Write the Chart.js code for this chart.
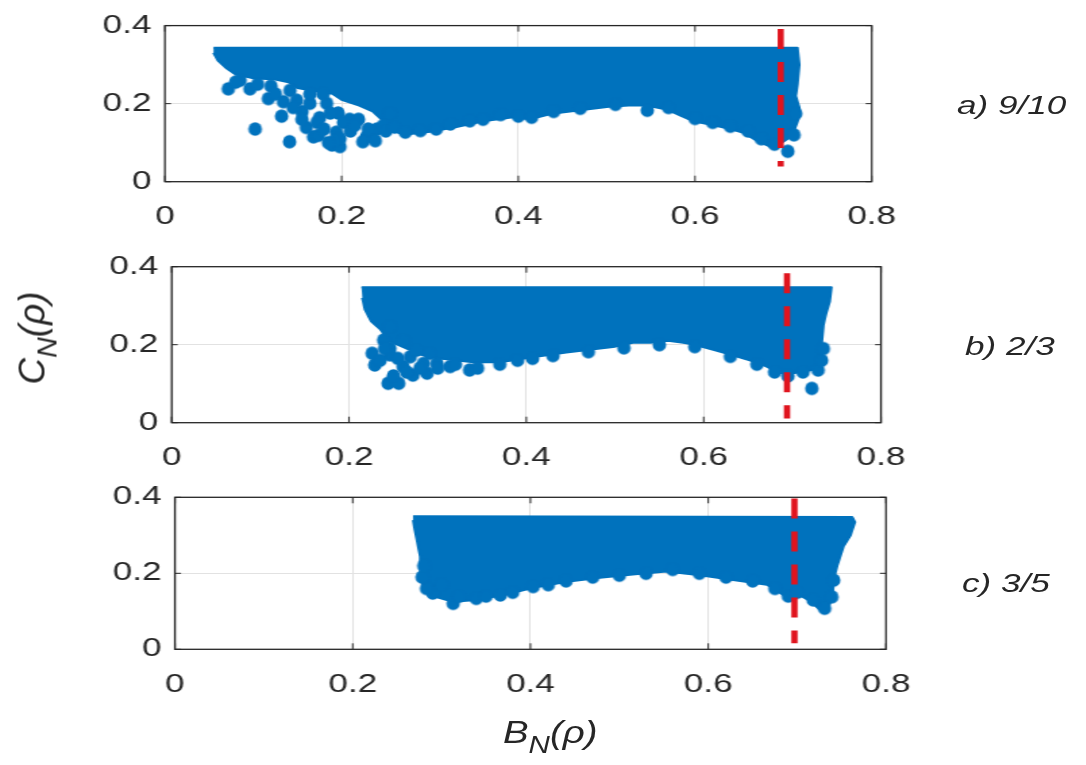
<!DOCTYPE html>
<html><head><meta charset="utf-8">
<script src="https://cdn.jsdelivr.net/npm/chart.js@4.4.1/dist/chart.umd.min.js"></script>
<style>
html,body{margin:0;padding:0;background:#fff;width:1086px;height:765px;overflow:hidden;position:relative;}
#stage{position:absolute;left:0;top:0;width:805px;height:765px;transform:scaleX(1.35);transform-origin:0 0;}
#stage canvas{position:absolute;left:0;}
.lbl{position:absolute;font-family:"Liberation Sans",Arial,sans-serif;font-style:italic;color:#262626;white-space:nowrap;line-height:1;transform-origin:0 0;}
.lbl sub{font-size:0.77em;vertical-align:-0.42em;line-height:0;}
</style></head>
<body>
<div id="stage">
  <canvas id="cA" width="805" height="250" style="top:0px"></canvas>
  <canvas id="cB" width="805" height="250" style="top:240px"></canvas>
  <canvas id="cC" width="805" height="250" style="top:470px"></canvas>
</div>
<div class="lbl" style="left:957px;top:92px;font-size:26px;transform:scaleX(1.35);">a) 9/10</div>
<div class="lbl" style="left:965px;top:333px;font-size:26px;transform:scaleX(1.35);">b) 2/3</div>
<div class="lbl" style="left:962px;top:570px;font-size:26px;transform:scaleX(1.35);">c) 3/5</div>
<div class="lbl" style="left:503px;top:716px;font-size:32px;transform:scaleX(1.2);">B<sub>N</sub>(ρ)</div>
<div class="lbl" id="ylab" style="left:32px;top:338px;font-size:37px;transform-origin:50% 50%;transform:translate(-50%,-50%) rotate(-90deg);">C<sub>N</sub>(ρ)</div>
<script>
// ---- axes ----
const xTicks = [0, 0.2, 0.4, 0.6, 0.8];
const yTicks = [0, 0.2, 0.4];
const panelNames = ["a) 9/10", "b) 2/3", "c) 3/5"];

// ---- threshold (red dashed) lines: x, top y, bottom y ----
const redA = [0.697, 0.391, 0.039];
const redB = [0.694, 0.383, 0.011];
const redC = [0.697, 0.397, 0.016];

// ---- dense region envelopes [B, C] ----
const envA = [[0.055,0.343],[0.716,0.343],[0.718,0.30],[0.716,0.25],[0.714,0.22],[0.718,0.19],[0.717,0.16],[0.712,0.13],[0.705,0.11],[0.695,0.095],[0.685,0.09],
 [0.670,0.105],[0.655,0.125],[0.640,0.135],[0.620,0.145],[0.598,0.155],[0.583,0.170],[0.568,0.185],[0.545,0.195],[0.525,0.195],[0.507,0.193],[0.47,0.183],[0.44,0.175],[0.413,0.16],[0.394,0.165],[0.36,0.155],[0.33,0.14],[0.30,0.128],[0.27,0.12],
 [0.255,0.135],[0.245,0.16],[0.235,0.18],[0.22,0.195],[0.20,0.21],[0.19,0.225],[0.17,0.232],[0.15,0.24],[0.14,0.255],[0.125,0.262],[0.10,0.265],[0.08,0.275],[0.07,0.29],[0.06,0.31],[0.055,0.33]];
const envB = [[0.214,0.347],[0.744,0.347],[0.742,0.31],[0.738,0.28],[0.735,0.25],[0.733,0.20],[0.734,0.17],[0.730,0.145],[0.722,0.135],
 [0.71,0.13],[0.695,0.125],[0.685,0.128],[0.67,0.145],[0.652,0.16],[0.63,0.175],[0.614,0.185],[0.59,0.20],[0.577,0.205],[0.56,0.21],[0.54,0.205],[0.52,0.205],[0.50,0.195],[0.483,0.19],[0.445,0.18],[0.407,0.168],[0.37,0.155],
 [0.34,0.155],[0.32,0.16],[0.30,0.165],[0.28,0.175],[0.26,0.195],[0.245,0.21],[0.235,0.24],[0.225,0.26],[0.218,0.29],[0.215,0.32]];
const envC = [[0.268,0.350],[0.762,0.348],[0.765,0.335],[0.76,0.30],[0.752,0.27],[0.745,0.22],[0.741,0.182],[0.740,0.14],[0.735,0.11],
 [0.725,0.105],[0.716,0.125],[0.705,0.14],[0.692,0.13],[0.68,0.15],[0.666,0.17],[0.628,0.182],[0.591,0.195],[0.553,0.205],[0.515,0.197],[0.478,0.188],[0.441,0.178],[0.403,0.162],[0.37,0.143],[0.339,0.13],[0.313,0.125],[0.29,0.14],[0.283,0.15],[0.277,0.18],[0.276,0.244],[0.270,0.314],[0.268,0.34]];

// ---- individual visible points [B, C] ----
const dotsA = [[0.0717,0.238],[0.0962,0.238],[0.117,0.213],[0.134,0.205],[0.132,0.168],[0.155,0.180],[0.164,0.201],[0.175,0.164],[0.183,0.201],[0.196,0.176],[0.209,0.160],[0.219,0.160],
 [0.102,0.135],[0.141,0.1025],[0.160,0.139],[0.168,0.115],[0.174,0.119],[0.189,0.094],[0.198,0.090],[0.194,0.127],[0.202,0.152],[0.228,0.115],[0.232,0.119],[0.240,0.135],[0.247,0.144],[0.255,0.176],
 [0.1415,0.234],[0.149,0.209],[0.164,0.225],[0.179,0.225],[0.187,0.176],[0.172,0.152],[0.198,0.111],[0.224,0.1025],[0.085,0.26],[0.12,0.245],
 [0.192,0.105],[0.185,0.10],[0.18,0.135],[0.21,0.13],[0.215,0.145],[0.23,0.135],[0.238,0.105],[0.25,0.13],[0.26,0.14],[0.155,0.16],[0.145,0.19],[0.125,0.225],[0.105,0.25],[0.08,0.255],
 [0.272,0.127],[0.289,0.131],[0.307,0.135],[0.323,0.148],[0.345,0.156],[0.360,0.160],[0.38,0.172],[0.40,0.168],[0.415,0.165],[0.44,0.18],[0.47,0.188],[0.51,0.198],[0.546,0.183],[0.57,0.19],[0.6,0.162],[0.62,0.152],[0.64,0.142],[0.66,0.13],[0.675,0.11],[0.69,0.096],[0.712,0.12],[0.714,0.175],[0.705,0.078]];
const dotsB = [[0.226,0.178],[0.229,0.148],[0.244,0.101],[0.256,0.101],[0.246,0.191],[0.246,0.174],[0.269,0.169],[0.272,0.122],[0.288,0.127],[0.284,0.152],[0.299,0.152],[0.314,0.144],[0.336,0.135],[0.261,0.144],[0.276,0.186],[0.291,0.178],[0.246,0.246],[0.239,0.212],[0.261,0.212],
 [0.235,0.16],[0.25,0.12],[0.265,0.13],[0.28,0.14],[0.30,0.14],[0.32,0.15],[0.345,0.14],[0.24,0.19],[0.255,0.165],
 [0.37,0.15],[0.39,0.16],[0.407,0.165],[0.43,0.172],[0.47,0.182],[0.51,0.192],[0.55,0.2],[0.59,0.195],[0.63,0.17],[0.66,0.15],[0.68,0.13],[0.695,0.12],[0.712,0.13],[0.729,0.135],[0.722,0.088],[0.733,0.16],[0.735,0.19]];
const dotsC = [[0.313,0.121],[0.339,0.134],[0.366,0.143],[0.29,0.148],[0.283,0.16],[0.30,0.17],[0.32,0.14],[0.278,0.19],[0.28,0.22],[0.35,0.14],[0.38,0.15],[0.403,0.165],[0.42,0.17],[0.44,0.18],[0.47,0.19],[0.50,0.195],[0.53,0.2],[0.56,0.21],[0.59,0.2],[0.62,0.19],[0.65,0.18],[0.675,0.16],[0.69,0.14],[0.70,0.15],[0.718,0.13],[0.731,0.108],[0.739,0.138],[0.741,0.182]];

// ---- rendering ----
const K = 1.35;          // horizontal stretch of the stage
const BLUE = '#0072BD';
const RED = '#E0141E';
const INK = '#262626';

function makeDot(r){
  const c = document.createElement('canvas');
  const w = Math.ceil(2*r/K)+2, h = Math.ceil(2*r)+2;
  c.width = w; c.height = h;
  const g = c.getContext('2d');
  g.fillStyle = BLUE;
  g.beginPath(); g.ellipse(w/2, h/2, r/K, r, 0, 0, Math.PI*2); g.fill();
  return c;
}
const dotImg = makeDot(6.8);

const boxPlugin = {
  id: 'matlabBox',
  beforeDatasetsDraw(chart){
    const {ctx, chartArea:a, scales:{x, y}} = chart;
    ctx.save();
    ctx.strokeStyle = INK; ctx.lineWidth = 1;
    ctx.beginPath();
    xTicks.forEach(v => { const px = x.getPixelForValue(v); ctx.moveTo(px, a.bottom); ctx.lineTo(px, a.bottom-6); ctx.moveTo(px, a.top); ctx.lineTo(px, a.top+6); });
    yTicks.forEach(v => { const py = y.getPixelForValue(v); ctx.moveTo(a.left, py); ctx.lineTo(a.left+6/K, py); ctx.moveTo(a.right, py); ctx.lineTo(a.right-6/K, py); });
    ctx.stroke();
    ctx.restore();
  },
  afterDraw(chart){
    const {ctx, chartArea:a} = chart;
    ctx.save();
    ctx.strokeStyle = INK; ctx.lineWidth = 1.3;
    ctx.strokeRect(a.left, a.top, a.right-a.left, a.bottom-a.top);
    ctx.restore();
  }
};

const pts = arr => arr.map(p => ({x:p[0], y:p[1]}));

function panel(id, env, dots, red, pad){
  new Chart(document.getElementById(id), {
    type: 'scatter',
    data: { datasets: [
      { label:'threshold', data:[{x:red[0],y:red[1]},{x:red[0],y:red[2]}], showLine:true, borderColor:RED, borderWidth:4.6, borderDash:[20,13], borderCapStyle:'butt', pointRadius:0, order:0 },
      { label:'points', data:pts(dots), pointStyle:dotImg, pointRadius:6.8, backgroundColor:BLUE, borderColor:BLUE, order:1 },
      { label:'region', data:pts(env), showLine:true, fill:'shape', backgroundColor:BLUE, borderColor:BLUE, borderWidth:2, borderJoinStyle:'round', pointRadius:0, tension:0, order:2 }
    ]},
    options: {
      responsive:false, animation:false, devicePixelRatio:1,
      layout:{ padding: pad },
      plugins:{ legend:{display:false}, tooltip:{enabled:false} },
      scales:{
        x:{ type:'linear', min:0, max:0.8,
            afterBuildTicks: s => { s.ticks = xTicks.map(v => ({value:v})); },
            afterFit: s => { s.height = 50; },
            grid:{ color:'#e2e2e2', lineWidth:1, drawTicks:false },
            border:{ display:false },
            ticks:{ padding:20, color:INK, font:{family:'"Liberation Sans", Arial, sans-serif', size:26}, maxRotation:0, autoSkip:false, callback: v => String(v) } },
        y:{ type:'linear', min:0, max:0.4,
            afterBuildTicks: s => { s.ticks = yTicks.map(v => ({value:v})); },
            afterFit: s => { s.width = 60; },
            grid:{ color:'#e2e2e2', lineWidth:1, drawTicks:false },
            border:{ display:false },
            ticks:{ padding:10, color:INK, font:{family:'"Liberation Sans", Arial, sans-serif', size:26}, autoSkip:false, callback: v => String(v) } }
      }
    },
    plugins:[boxPlugin]
  });
}

// plot areas (stage units): A 122.2-645.7 x 19-181.7 ; B 127.2-652.6 x 266.7-422.7 ; C 129.6-656.3 x 497.3-649.3
panel('cA', envA, dotsA, redA, {left:62.2, right:805-645.7, top:19, bottom:250-181.7-50});
panel('cB', envB, dotsB, redB, {left:67.2, right:805-652.6, top:266.7-240, bottom:490-422.7-50});
panel('cC', envC, dotsC, redC, {left:69.6, right:805-656.3, top:497.3-470, bottom:720-649.3-50});
</script>
</body></html>
